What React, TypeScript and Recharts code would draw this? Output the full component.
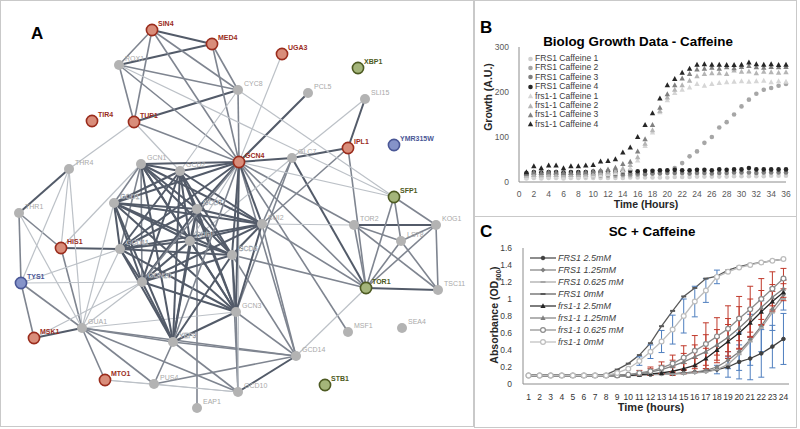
import React from 'react';
import {
  ScatterChart, Scatter, XAxis, YAxis, ReferenceLine,
  LineChart, Line, ErrorBar, Legend,
} from 'recharts';

const FONT = '"Liberation Sans", Arial, sans-serif';

// ---------------- Panel A: network ----------------
const nodeNames = ['SIN4','MED4','UGA3','XBP1','ROX1','CYC8','PCL5','SLI15','TIR4','TUP1','IPL1','YMR315W','GCN4','GLC7','THR4','GCN1','GCD2','GCD1','GCD7','SUI2','GCD11','SUI3','GCD6','GCN20','GCN3','YEF3','THR1','HIS1','TYS1','MSK1','GUA1','MTO1','PUS4','EAP1','GCD10','GCD14','MSF1','SEA4','STB1','TOR1','TSC11','TOR2','LST8','KOG1','SFP1'];
const nodeX = [152,212,282,358,119,238,308,365,92,134,348,394,239,292,69,141,180,114,197,262,120,190,232,142,236,173,19,61,21,34,82,105,154,197,238,296,348,402,325,366,438,354,401,436,394];
const nodeY = [30,44,54,68,65,90,93,99,121,122,148,145,162,158,169,164,171,203,209,224,249,241,255,282,312,342,213,248,283,338,328,380,384,408,392,356,332,328,385,288,290,225,241,225,197];
const nodeKind = ['red','red','red','green','grey','grey','grey','grey','red','red','red','blue','red','grey','grey','grey','grey','grey','grey','grey','grey','grey','grey','grey','grey','grey','grey','red','blue','red','grey','red','grey','grey','grey','grey','grey','grey','green','green','grey','grey','grey','grey','green'];
const haloLabels = ['GCD1','GCD7','GCD11','SUI3','GCN20','YEF3','GCD6'];

const EDGES: [string, string, number][] = [
  ['SIN4','MED4',2],['MED4','ROX1',2],['TUP1','CYC8',2],['PCL5','GCN4',2],['SLI15','IPL1',2],['IPL1','GLC7',2],
  ['GCN4','GLC7',2],['THR4','THR1',2],['HIS1','GCD11',2],['MSK1','GUA1',2],['TOR1','TSC11',2],['TOR2','KOG1',2],
  ['GCD10','GCD14',2],['GLC7','TOR1',2],
  ['SIN4','ROX1',1],['SIN4','TUP1',1],['SIN4','CYC8',1],['SIN4','GCN4',1],['MED4','CYC8',1],['MED4','GCN4',1],
  ['ROX1','TUP1',1],['ROX1','CYC8',1],['ROX1','GCN4',1],['TUP1','GCN4',1],['CYC8','GCN4',1],['IPL1','TOR1',1],
  ['GCN4','TOR1',1],['GCN4','GCD14',1],['GCN4','MSF1',1],['GCN4','TOR2',1],['THR1','TYS1',1],['THR1','HIS1',1],
  ['TYS1','MSK1',1],['GUA1','MTO1',1],['GUA1','PUS4',1],['GUA1','GCD10',1],['GUA1','GCD14',1],['GUA1','YEF3',1],
  ['GCD10','GCN3',1],['PUS4','GCD14',1],['EAP1','GCD7',1],['TOR2','TOR1',1],['TOR1','LST8',1],['TOR1','KOG1',1],
  ['TOR2','LST8',1],['TOR2','TSC11',1],['LST8','KOG1',1],['LST8','TSC11',1],['KOG1','TSC11',1],['SFP1','TOR1',1],
  ['SFP1','LST8',1],['SFP1','KOG1',1],['GCD14','GCN3',1],['GCD14','GCD6',1],['GCD10','YEF3',1],['GCD10','GCD6',1],
  ['IPL1','SUI2',1],['GLC7','SUI2',1],['GLC7','GCN3',1],['TOR1','SUI2',1],['TOR1','GCD6',1],['PUS4','YEF3',1],
  ['TYS1','GUA1',1],['HIS1','GUA1',1],['GCD14','YEF3',1],['GCD14','SUI2',1],
  ['UGA3','GCN4',0],['TUP1','THR4',0],['CYC8','SFP1',0],['CYC8','GCD2',0],['SLI15','GLC7',0],['TYS1','GCD11',0],
  ['TYS1','GCN20',0],['THR4','TYS1',0],['THR4','GUA1',0],['THR4','HIS1',0],['THR1','GUA1',0],['MSK1','GCN20',0],
  ['GUA1','GCN20',0],['GUA1','GCD1',0],['GUA1','GCD11',0],['MTO1','PUS4',0],['PUS4','GCD10',0],['GCD14','TOR1',0],
  ['TOR2','SUI2',0],['GCN4','SFP1',0],['GLC7','GCN20',0],['TUP1','GCD2',0],['GCN4','GCD10',0],['HIS1','GCN1',0],
  ['GCN4','SUI3',0],['ROX1','SFP1',0],['GUA1','GCN3',0],['MTO1','GCD10',0],
  // translation cluster
  ['GCN1','GCD2',2],['GCN1','GCD1',1],['GCN1','GCD7',2],['GCN1','SUI2',2],['GCN1','GCD11',1],['GCN1','SUI3',2],
  ['GCN1','GCD6',2],['GCN1','GCN20',1],['GCN1','GCN3',2],['GCN1','YEF3',2],['GCN1','GCN4',2],
  ['GCD2','GCD1',2],['GCD2','GCD7',2],['GCD2','SUI2',2],['GCD2','GCD11',2],['GCD2','SUI3',2],['GCD2','GCD6',2],
  ['GCD2','GCN20',2],['GCD2','GCN3',2],['GCD2','YEF3',2],['GCD2','GCN4',2],
  ['GCD1','GCD7',2],['GCD1','SUI2',2],['GCD1','GCD11',2],['GCD1','SUI3',2],['GCD1','GCD6',2],['GCD1','GCN20',2],
  ['GCD1','GCN3',2],['GCD1','YEF3',2],['GCD1','GCN4',2],
  ['GCD7','SUI2',2],['GCD7','GCD11',2],['GCD7','SUI3',2],['GCD7','GCD6',2],['GCD7','GCN20',2],['GCD7','GCN3',2],
  ['GCD7','YEF3',2],['GCD7','GCN4',2],
  ['SUI2','GCD11',2],['SUI2','SUI3',2],['SUI2','GCD6',2],['SUI2','GCN20',2],['SUI2','GCN3',2],['SUI2','GCN4',2],
  ['GCD11','SUI3',2],['GCD11','GCD6',2],['GCD11','GCN20',2],['GCD11','GCN3',2],['GCD11','YEF3',2],['GCD11','GCN4',2],
  ['SUI3','GCD6',2],['SUI3','GCN20',2],['SUI3','GCN3',2],['SUI3','YEF3',2],
  ['GCD6','GCN20',2],['GCD6','GCN3',2],['GCD6','YEF3',2],['GCD6','GCN4',2],
  ['GCN20','GCN3',2],['GCN20','YEF3',2],['GCN20','GCN4',1],['GCN3','YEF3',2],['GCN3','GCN4',2],['YEF3','GCN4',1],
];

const NODE_STYLE: Record<string, { fill: string; stroke: string; label: string; r: number; bold: boolean }> = {
  red: { fill: '#d98d7a', stroke: '#9a2c1c', label: '#9a2c1c', r: 5.6, bold: true },
  green: { fill: '#a4b57a', stroke: '#4d5a22', label: '#4d5a22', r: 5.6, bold: true },
  blue: { fill: '#8593c9', stroke: '#4a5796', label: '#4a5796', r: 5.6, bold: true },
  grey: { fill: '#b3b3b3', stroke: '#b3b3b3', label: '#a9a9a9', r: 5, bold: false },
};
const EDGE_STYLE = [
  { stroke: '#bcc1c7', width: 1.2 },
  { stroke: '#7f8590', width: 1.6 },
  { stroke: '#535b69', width: 2 },
];

const nodeData = nodeNames.map((id, i) => ({ id, x: nodeX[i], y: nodeY[i], kind: nodeKind[i] }));
const nodeIndex: Record<string, number> = {};
nodeNames.forEach((n, i) => { nodeIndex[n] = i; });

const NodeShape = (props: any) => {
  const { cx, cy, payload } = props;
  const st = NODE_STYLE[payload.kind];
  const halo = haloLabels.indexOf(payload.id) >= 0;
  return (
    <g>
      <circle cx={cx} cy={cy} r={st.r} fill={st.fill} stroke={st.stroke} strokeWidth={payload.kind === 'grey' ? 0 : 1.6} />
      <text x={cx + 6} y={cy - 4} fontSize={7} fontFamily={FONT}
        fill={halo ? '#f2f4f6' : st.label} stroke={halo ? '#8d939b' : 'none'} strokeWidth={halo ? 0.35 : 0}
        fontWeight={st.bold ? 700 : 400}>{payload.id}</text>
    </g>
  );
};

// ---------------- Panel B: Biolog ----------------
const hoursB = [1,2,3,4,5,6,7,8,9,10,11,12,13,14,15,16,17,18,19,20,21,22,23,24,25,26,27,28,29,30,31,32,33,34,35,36];
const ticksB = [0,2,4,6,8,10,12,14,16,18,20,22,24,26,28,30,32,34,36];
const FRS1_C1 = [8,9,8,9,9,8,9,9,9,9,9,9,9,9,10,10,10,10,10,10,11,11,11,12,12,12,12,12,13,13,13,13,13,14,14,14];
const FRS1_C2 = [12,13,13,13,13,12,13,13,13,13,14,14,14,15,15,16,17,19,22,25,31,42,57,68,87,100,121,133,150,168,183,196,205,209,214,218];
const FRS1_C3 = [16,17,17,17,17,16,17,17,17,17,18,18,18,18,19,19,18,19,19,20,20,20,19,20,20,19,20,20,21,21,21,20,21,21,21,21];
const FRS1_C4 = [20,22,21,22,22,21,22,22,22,23,23,23,24,24,25,24,25,25,26,26,27,26,26,27,27,26,28,27,28,28,31,28,28,28,28,28];
const frs_C1 = [10,12,11,12,12,11,12,12,13,14,16,18,20,25,30,48,80,110,155,182,198,205,210,218,214,218,220,222,223,224,223,224,225,222,224,223];
const frs_C2 = [14,16,15,16,16,15,16,16,17,18,20,22,25,30,38,55,85,115,158,188,205,215,225,235,240,242,242,240,248,245,246,242,245,244,243,244];
const frs_C3 = [18,22,20,22,22,20,21,21,22,24,26,28,32,40,45,68,95,127,165,195,215,230,240,250,252,254,252,255,253,256,258,255,254,256,255,256];
const frs_C4 = [22,35,31,37,37,31,35,35,37,38,46,47,51,66,77,100,127,153,186,215,229,243,252,261,262,261,261,260,260,261,266,262,261,262,260,261];

const seriesB = [
  { name: 'FRS1 Caffeine 1', values: FRS1_C1, color: '#d0d0d0', shape: 'circle' },
  { name: 'FRS1 Caffeine 2', values: FRS1_C2, color: '#a6a6a6', shape: 'circle' },
  { name: 'FRS1 Caffeine 3', values: FRS1_C3, color: '#7f7f7f', shape: 'circle' },
  { name: 'FRS1 Caffeine 4', values: FRS1_C4, color: '#262626', shape: 'circle' },
  { name: 'frs1-1 Caffeine 1', values: frs_C1, color: '#d6d6d6', shape: 'triangle' },
  { name: 'frs1-1 Caffeine 2', values: frs_C2, color: '#b5b5b5', shape: 'triangle' },
  { name: 'frs1-1 Caffeine 3', values: frs_C3, color: '#808080', shape: 'triangle' },
  { name: 'frs1-1 Caffeine 4', values: frs_C4, color: '#262626', shape: 'triangle' },
];

const makeBShape = (shape: string, color: string) => (props: any) => {
  const { cx, cy } = props;
  if (cx == null || cy == null) return <g />;
  if (shape === 'circle') return <circle cx={cx} cy={cy} r={2.3} fill={color} />;
  return <path d={`M${cx},${cy - 2.9}L${cx + 2.7},${cy + 2.1}L${cx - 2.7},${cy + 2.1}Z`} fill={color} />;
};

// ---------------- Panel C: SC + Caffeine ----------------
const hoursC = [1,2,3,4,5,6,7,8,9,10,11,12,13,14,15,16,17,18,19,20,21,22,23,24];
const ticksCy = [0,0.2,0.4,0.6,0.8,1,1.2,1.4,1.6];
const FRS1_25 = [0.1,0.1,0.1,0.1,0.1,0.1,0.1,0.1,0.1,0.1,0.11,0.11,0.12,0.12,0.13,0.14,0.15,0.17,0.2,0.26,0.3,0.36,0.44,0.53];
const FRS1_125 = [0.1,0.1,0.1,0.1,0.1,0.1,0.1,0.1,0.1,0.1,0.11,0.11,0.12,0.12,0.13,0.14,0.16,0.2,0.28,0.38,0.52,0.68,0.88,1.05];
const FRS1_0625 = [0.1,0.1,0.1,0.1,0.1,0.1,0.1,0.1,0.1,0.1,0.1,0.11,0.11,0.12,0.12,0.13,0.14,0.17,0.23,0.35,0.5,0.66,0.84,1.0];
const FRS1_0 = [0.1,0.1,0.1,0.1,0.1,0.1,0.1,0.11,0.17,0.24,0.34,0.48,0.68,0.86,1.03,1.13,1.24,1.27,1.34,1.38,1.41,1.43,1.45,1.47];
const frs_25 = [0.1,0.1,0.1,0.1,0.1,0.1,0.1,0.1,0.1,0.1,0.11,0.12,0.13,0.15,0.18,0.22,0.3,0.4,0.5,0.6,0.72,0.85,0.97,1.08];
const frs_125 = [0.1,0.1,0.1,0.1,0.1,0.1,0.1,0.1,0.1,0.11,0.12,0.14,0.17,0.21,0.26,0.32,0.38,0.46,0.55,0.66,0.78,0.9,1.02,1.12];
const frs_0625 = [0.1,0.1,0.1,0.1,0.1,0.1,0.1,0.1,0.1,0.11,0.13,0.15,0.19,0.24,0.31,0.39,0.47,0.56,0.65,0.77,0.88,1.0,1.12,1.24];
const frs_0 = [0.1,0.1,0.1,0.1,0.1,0.1,0.1,0.1,0.13,0.18,0.27,0.38,0.5,0.64,0.8,0.97,1.1,1.26,1.32,1.37,1.4,1.43,1.45,1.47];
const err_FRS1_25 = [null,null,null,null,null,null,null,null,null,null,null,null,null,null,null,null,null,0.05,0.12,0.2,0.25,0.28,0.25,0.3];
const err_FRS1_125 = [null,null,null,null,null,null,null,null,null,null,null,null,null,null,null,null,null,null,0.1,0.22,0.3,0.3,0.25,0.18];
const err_frs_0625 = [null,null,null,null,null,null,null,null,null,null,0.03,0.05,0.07,0.1,0.14,0.18,0.25,0.22,0.27,0.26,0.27,0.24,0.2,0.12];
const err_frs_125 = [null,null,null,null,null,null,null,null,null,null,null,0.04,0.05,0.07,0.1,0.14,0.2,0.18,0.22,0.25,0.22,0.2,0.15,0.1];
const err_frs_25 = [null,null,null,null,null,null,null,null,null,null,null,null,null,0.05,0.06,0.08,0.12,0.15,0.2,0.18,0.17,0.16,0.12,0.1];
const err_frs_0 = [null,null,null,null,null,null,null,null,null,null,0.05,0.08,0.13,0.17,0.2,0.18,0.14,0.08,null,null,null,null,null,null];

const seriesC = [
  { key: 'a', name: 'FRS1 2.5mM', values: FRS1_25, err: err_FRS1_25, errColor: '#4f7fbf', color: '#404040', marker: 'dot' },
  { key: 'b', name: 'FRS1 1.25mM', values: FRS1_125, err: err_FRS1_125, errColor: '#4f7fbf', color: '#7f7f7f', marker: 'diamond' },
  { key: 'c', name: 'FRS1 0.625 mM', values: FRS1_0625, err: null, errColor: '#4f7fbf', color: '#a6a6a6', marker: 'dash' },
  { key: 'd', name: 'FRS1 0mM', values: FRS1_0, err: null, errColor: '#4f7fbf', color: '#595959', marker: 'dash' },
  { key: 'e', name: 'frs1-1 2.5mM', values: frs_25, err: err_frs_25, errColor: '#c0392b', color: '#262626', marker: 'triangle' },
  { key: 'f', name: 'frs1-1 1.25mM', values: frs_125, err: err_frs_125, errColor: '#c0392b', color: '#7f7f7f', marker: 'triangle' },
  { key: 'g', name: 'frs1-1 0.625 mM', values: frs_0625, err: err_frs_0625, errColor: '#c0392b', color: '#8c8c8c', marker: 'ocircle' },
  { key: 'h', name: 'frs1-1 0mM', values: frs_0, err: err_frs_0, errColor: '#4f7fbf', color: '#bdbdbd', marker: 'ocircle' },
];

const rowsC = hoursC.map((t, i) => {
  const row: any = { t };
  seriesC.forEach((s) => {
    row[s.key] = s.values[i];
    if (s.err && s.err[i] != null) row[s.key + 'E'] = s.err[i];
  });
  return row;
});

const markerPath = (marker: string, cx: number, cy: number, color: string) => {
  switch (marker) {
    case 'dot':
      return <circle cx={cx} cy={cy} r={1.8} fill={color} stroke={color} />;
    case 'diamond':
      return <path d={`M${cx},${cy - 2.5}L${cx + 2.5},${cy}L${cx},${cy + 2.5}L${cx - 2.5},${cy}Z`} fill={color} />;
    case 'dash':
      return <rect x={cx - 2.5} y={cy - 1} width={5} height={2} fill={color} />;
    case 'triangle':
      return <path d={`M${cx},${cy - 2.8}L${cx + 2.6},${cy + 2}L${cx - 2.6},${cy + 2}Z`} fill={color} />;
    case 'ocircle':
    default:
      return <circle cx={cx} cy={cy} r={2.4} fill="#ffffff" stroke={color} strokeWidth={1.2} />;
  }
};

const makeDot = (marker: string, color: string) => (props: any) => {
  const { cx, cy, index } = props;
  if (cx == null || cy == null) return <g key={index} />;
  return <g key={index}>{markerPath(marker, cx, cy, color)}</g>;
};

const LegendB = () => (
  <div style={{ fontFamily: FONT, fontSize: 8.6, color: '#404040', lineHeight: '9.4px' }}>
    {seriesB.map((s) => (
      <div key={s.name} style={{ display: 'flex', alignItems: 'center', height: 9.4, whiteSpace: 'nowrap' }}>
        <svg width={7} height={8} style={{ marginRight: 1 }}>
          {s.shape === 'circle'
            ? <circle cx={3.5} cy={4} r={2.3} fill={s.color} />
            : <path d="M3.5,1.2L6.2,6.3L0.8,6.3Z" fill={s.color} />}
        </svg>
        <span>{s.name}</span>
      </div>
    ))}
  </div>
);

const LegendC = () => (
  <div style={{ fontFamily: FONT, fontSize: 9, fontStyle: 'italic', color: '#404040' }}>
    {seriesC.map((s) => (
      <div key={s.name} style={{ display: 'flex', alignItems: 'center', height: 12, whiteSpace: 'nowrap' }}>
        <svg width={26} height={10} style={{ marginRight: 2 }}>
          <line x1={0} y1={5} x2={26} y2={5} stroke={s.color} strokeWidth={1.2} />
          {markerPath(s.marker, 13, 5, s.color)}
        </svg>
        <span>{s.name}</span>
      </div>
    ))}
  </div>
);

const abs = (l: number, t: number, extra: any = {}) => ({ position: 'absolute' as const, left: l, top: t, ...extra });

export default function App() {
  return (
    <div style={{ position: 'absolute', left: 0, top: 0, width: 800, height: 429, background: '#ffffff', overflow: 'hidden', fontFamily: FONT }}>
      {/* panel frames */}
      <div style={abs(0, 0, { width: 472, height: 425, border: '1px solid #c9c9c9' })} />
      <div style={abs(474, 0, { width: 321, height: 215, border: '1px solid #c9c9c9' })} />
      <div style={abs(474, 216, { width: 321, height: 210, border: '1px solid #c9c9c9' })} />

      {/* Panel A */}
      <div style={abs(0, 0)}>
        <ScatterChart width={473} height={425} margin={{ top: 0, right: 0, bottom: 0, left: 0 }}>
          <XAxis type="number" dataKey="x" domain={[0, 473]} hide />
          <YAxis type="number" dataKey="y" domain={[0, 425]} reversed hide />
          {EDGES.map(([a, b, w], i) => (
            <ReferenceLine
              key={'e' + i}
              segment={[{ x: nodeX[nodeIndex[a]], y: nodeY[nodeIndex[a]] }, { x: nodeX[nodeIndex[b]], y: nodeY[nodeIndex[b]] }]}
              stroke={EDGE_STYLE[w].stroke}
              strokeWidth={EDGE_STYLE[w].width}
              ifOverflow="visible"
            />
          ))}
          <Scatter data={nodeData} shape={NodeShape} isAnimationActive={false} />
        </ScatterChart>
      </div>
      <div style={abs(31, 24, { fontSize: 17, fontWeight: 700, color: '#000' })}>A</div>

      {/* Panel B */}
      <div style={abs(475, 0)}>
        <ScatterChart width={321} height={215} margin={{ top: 47, right: 10, bottom: 3, left: 4 }}>
          <XAxis type="number" dataKey="t" domain={[0, 36]} ticks={ticksB} interval={0} tickLine={false} height={30}
            axisLine={{ stroke: '#8c8c8c' }} tick={{ fontSize: 8.5, fill: '#595959', fontFamily: FONT }} tickMargin={3} />
          <YAxis type="number" dataKey="v" domain={[0, 300]} ticks={[0, 100, 200, 300]} width={40} tickLine={false}
            axisLine={{ stroke: '#8c8c8c' }} tick={{ fontSize: 8.5, fill: '#595959', fontFamily: FONT }} tickMargin={4} />
          {seriesB.map((s) => (
            <Scatter key={s.name} name={s.name} data={hoursB.map((t, i) => ({ t, v: s.values[i] }))}
              fill={s.color} shape={makeBShape(s.shape, s.color)} isAnimationActive={false} />
          ))}
          <Legend layout="vertical" align="center" verticalAlign="middle" content={LegendB}
            wrapperStyle={{ left: 52, top: 54, width: 110 }} />
        </ScatterChart>
      </div>
      <div style={abs(480, 18, { fontSize: 17, fontWeight: 700, color: '#000' })}>B</div>
      <div style={abs(520, 34, { width: 236, textAlign: 'center', fontSize: 13.4, fontWeight: 700, color: '#000' })}>Biolog Growth Data - Caffeine</div>
      <div style={abs(586, 198, { width: 120, textAlign: 'center', fontSize: 10.5, fontWeight: 700, color: '#262626' })}>Time (Hours)</div>
      <div style={abs(438, 91, { width: 100, textAlign: 'center', fontSize: 10.5, fontWeight: 700, color: '#262626', transform: 'rotate(-90deg)' })}>Growth (A.U.)</div>

      {/* Panel C */}
      <div style={abs(475, 217)}>
        <LineChart width={321} height={210} data={rowsC} margin={{ top: 31, right: 7, bottom: 13, left: 7 }}>
          <XAxis type="number" dataKey="t" domain={[0.5, 24.5]} ticks={hoursC} interval={0} tickLine={false} height={30}
            axisLine={{ stroke: '#8c8c8c' }} tick={{ fontSize: 8.5, fill: '#333333', fontFamily: FONT }} tickMargin={4} />
          <YAxis type="number" domain={[0, 1.6]} ticks={ticksCy} width={41} tickLine={false}
            axisLine={{ stroke: '#8c8c8c' }} tick={{ fontSize: 8.5, fill: '#404040', fontFamily: FONT }} tickMargin={5} />
          {seriesC.map((s) => (
            <Line key={s.key} dataKey={s.key} name={s.name} stroke={s.color} strokeWidth={1.3}
              dot={makeDot(s.marker, s.color)} activeDot={false} isAnimationActive={false}>
              {s.err ? <ErrorBar dataKey={s.key + 'E'} direction="y" width={3} stroke={s.errColor} strokeWidth={1} /> : null}
            </Line>
          ))}
          <Legend layout="vertical" align="center" verticalAlign="middle" content={LegendC}
            wrapperStyle={{ left: 55, top: 35, width: 120 }} />
        </LineChart>
      </div>
      <div style={abs(480, 222, { fontSize: 17, fontWeight: 700, color: '#000' })}>C</div>
      <div style={abs(572, 224, { width: 160, textAlign: 'center', fontSize: 13.4, fontWeight: 700, color: '#000' })}>SC + Caffeine</div>
      <div style={abs(591, 401, { width: 120, textAlign: 'center', fontSize: 11, fontWeight: 700, color: '#262626' })}>Time (hours)</div>
      <div style={abs(440, 308, { width: 110, textAlign: 'center', fontSize: 10.5, fontWeight: 700, color: '#262626', transform: 'rotate(-90deg)', whiteSpace: 'nowrap' })}>
        Absorbance (OD<sub style={{ fontSize: 6.5 }}>600</sub>)
      </div>
    </div>
  );
}
